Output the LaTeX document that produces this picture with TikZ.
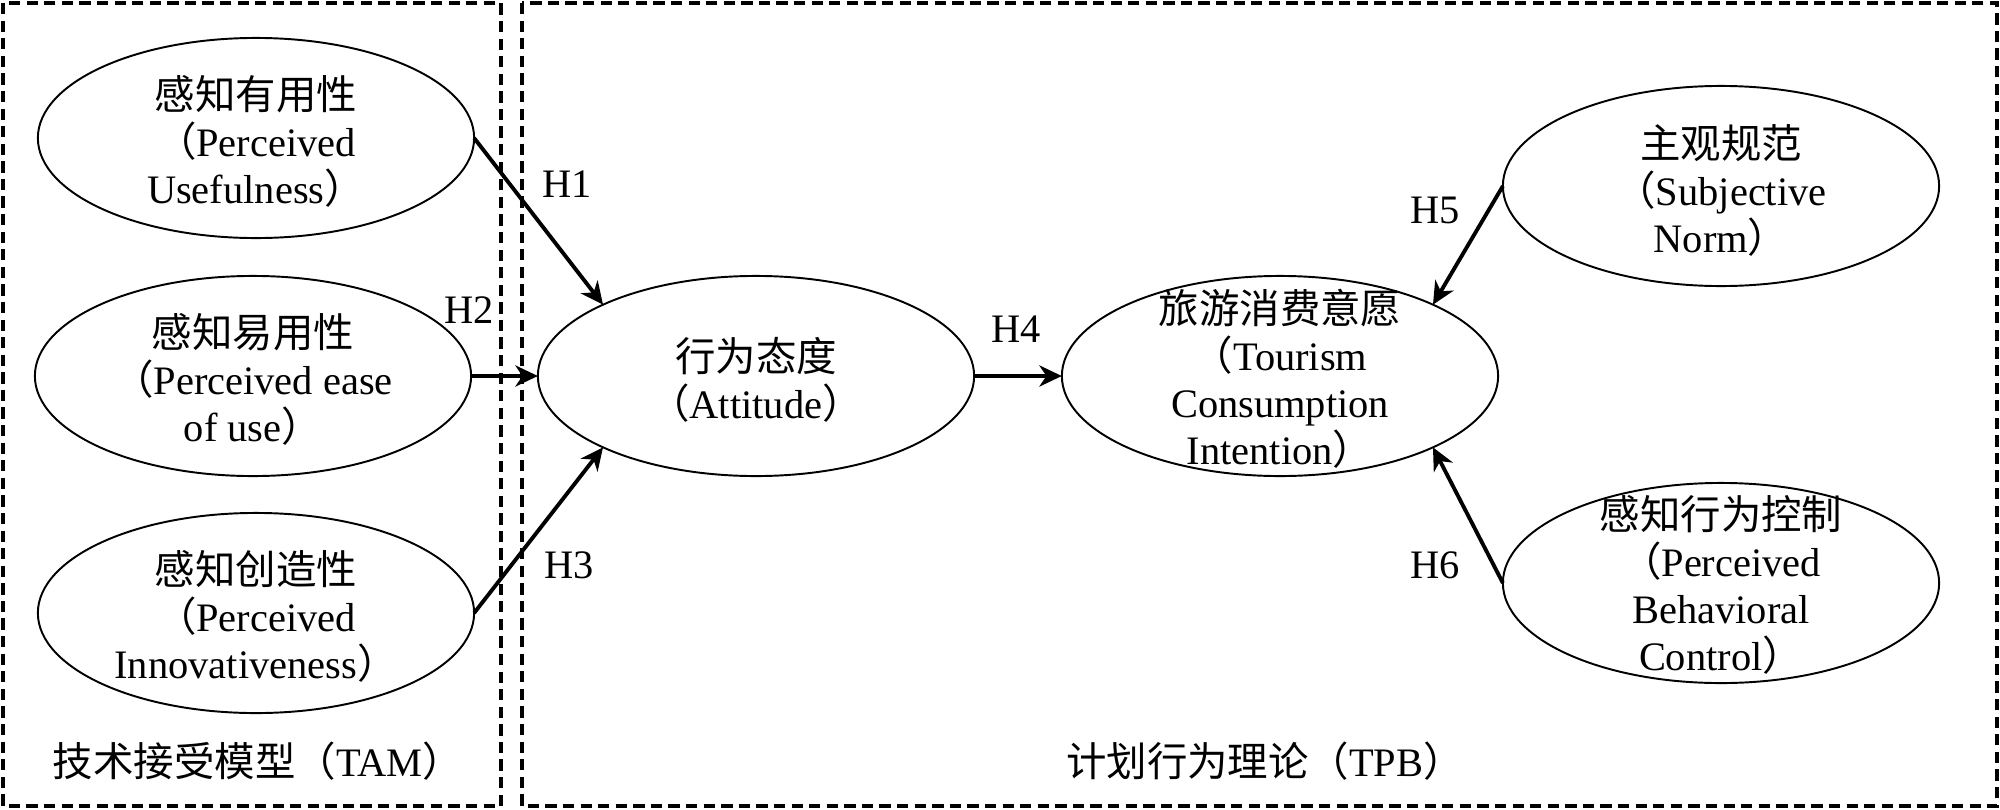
\documentclass[tikz,border=0pt]{standalone}
\usepackage{fontspec}
\setmainfont{Liberation Serif}
\newfontfamily\cjk{Noto Sans CJK SC}
\usetikzlibrary{shapes.geometric,arrows.meta}
\newcommand{\zh}[1]{{\cjk #1}}
\begin{document}
\begin{tikzpicture}[x=0.01cm,y=-0.01cm,
  ell/.style={draw, ellipse, line width=0.55pt, inner sep=0pt, outer sep=0pt, minimum width=4.36cm, minimum height=2cm},
  txt/.style={align=center, inner sep=0pt, font=\fontsize{11.5pt}{13.37pt}\selectfont},
  hyp/.style={inner sep=0pt, font=\fontsize{11.5pt}{13.37pt}\selectfont},
  arr/.style={-{Stealth[length=6.4pt,width=6pt,inset=2pt]}, line width=1.1pt},
  dbox/.style={draw, line width=1.4pt, dash pattern=on 3.2pt off 1.8pt}]
\useasboundingbox (0,0) rectangle (2000,809);
\draw[dbox] (3,3) rectangle (501,806);
\draw[dbox] (522,3) rectangle (1997,806);

\node[ell] (pu) at (256,138) {};
\node[ell] (peou) at (253,376) {};
\node[ell] (pi) at (256,613) {};
\node[ell] (att) at (756,376) {};
\node[ell] (tci) at (1280,376) {};
\node[ell] (sn) at (1721,186) {};
\node[ell] (pbc) at (1721,583) {};

\node[txt] (put) at (256,141) {\zh{感知有用性}\\\zh{（}Perceived\\Usefulness\zh{）}};
\node[txt] (peout) at (253,379) {\zh{感知易用性}\\\zh{（}Perceived ease\\of use\zh{）}};
\node[txt] (pit) at (256,616) {\zh{感知创造性}\\\zh{（}Perceived\\Innovativeness\zh{）}};
\node[txt] (attt) at (756,380) {\zh{行为态度}\\\zh{（}Attitude\zh{）}};
\node[txt] (tcit) at (1280,379) {\zh{旅游消费意愿}\\\zh{（}Tourism\\Consumption\\Intention\zh{）}};
\node[txt] (snt) at (1721,190) {\zh{主观规范}\\\zh{（}Subjective\\Norm\zh{）}};
\node[txt] (pbct) at (1721,585) {\zh{感知行为控制}\\\zh{（}Perceived\\Behavioral\\Control\zh{）}};

\draw[arr] (pu.east) -- (att.155);
\draw[arr] (peou.east) -- (att.west);
\draw[arr] (pi.east) -- (att.205);
\draw[arr] (att.east) -- (tci.west);
\draw[arr] (sn.west) -- (tci.25);
\draw[arr] (pbc.west) -- (tci.-25);

\node[hyp] (h1) at (567,184) {H1};
\node[hyp] (h2) at (469,310) {H2};
\node[hyp] (h3) at (569,565) {H3};
\node[hyp] (h4) at (1016,329) {H4};
\node[hyp] (h5) at (1435,210) {H5};
\node[hyp] (h6) at (1435,565) {H6};

\node[hyp] (tam) at (258,761) {\zh{技术接受模型（}TAM\zh{）}};
\node[hyp] (tpb) at (1265,761) {\zh{计划行为理论（}TPB\zh{）}};
\end{tikzpicture}
\end{document}
